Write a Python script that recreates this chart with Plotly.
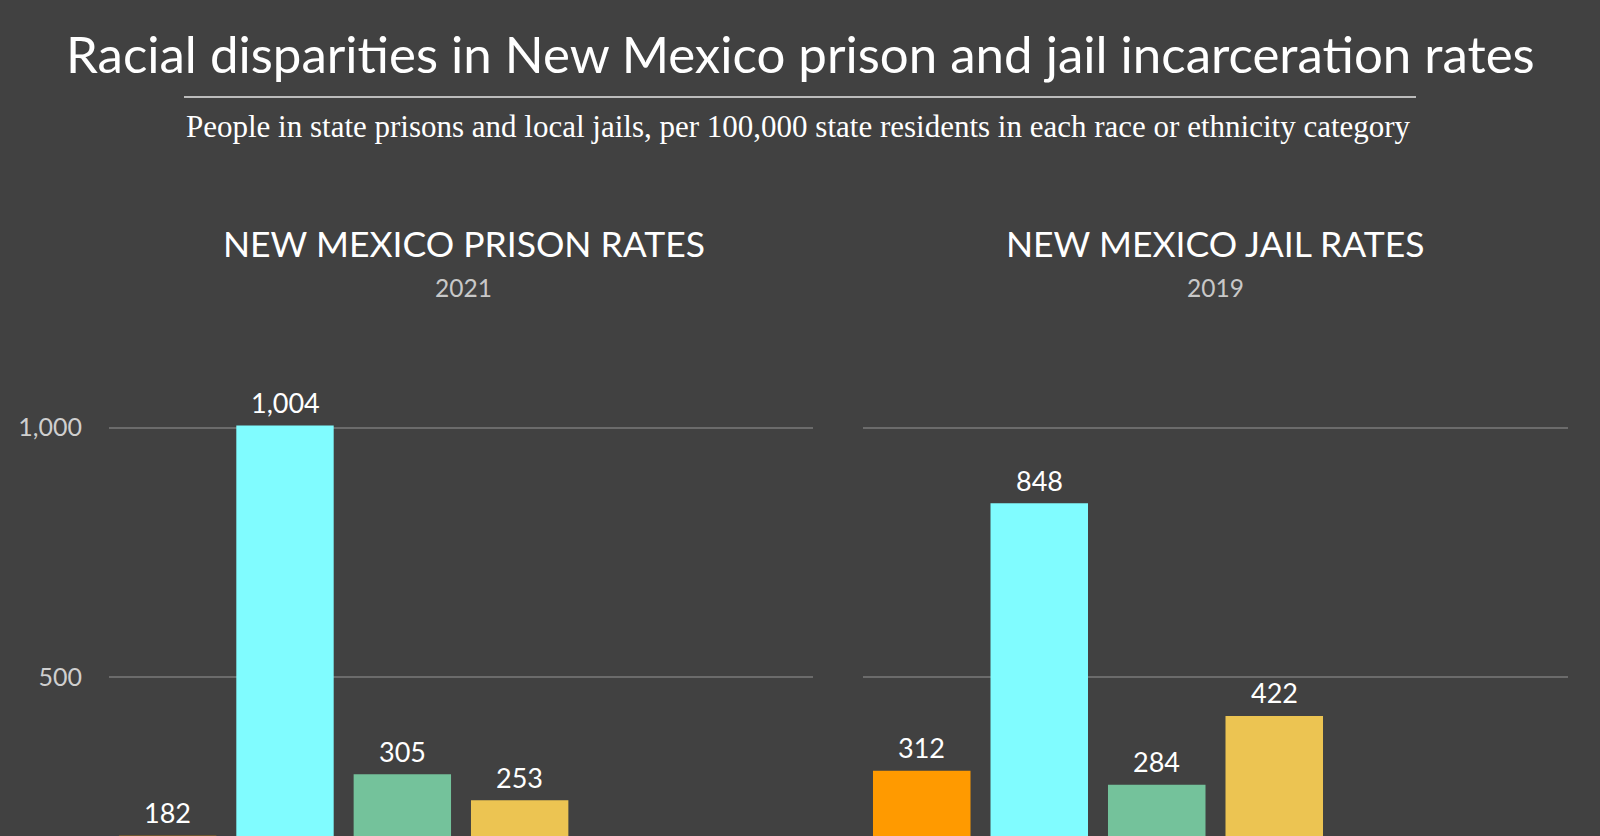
import plotly.graph_objects as go

categories = ["White", "Black", "Hispanic", "American Indian/Alaska Native"]
prison_rates = [182, 1004, 305, 253]
jail_rates = [312, 848, 284, 422]
bar_colors = ["#FF9A00", "#80FCFF", "#74C29B", "#ECC452"]
y_ticks = [500, 1000]
y_tick_text = ["500", "1,000"]

W, H = 1600, 836
BG = "#414141"

def py(px):
    return 1 - px / H

fig = go.Figure()
for vals, xa, ya in [(prison_rates, "x", "y"), (jail_rates, "x2", "y2")]:
    fig.add_trace(go.Bar(x=categories, y=vals, marker=dict(color=bar_colors, line=dict(width=0)),
                         xaxis=xa, yaxis=ya, showlegend=False, hoverinfo="x+y"))
    for c, v in zip(categories, vals):
        fig.add_annotation(x=c, y=v, xref=xa, yref=ya, text=f"{v:,}", showarrow=False,
                           yanchor="middle", yshift=23,
                           font=dict(family="Lato", size=27, color="#ffffff"))

yrange = [181.4, 1183.4]
ydom = [0, (H - 336) / H]
common_x = dict(type="category", range=[-0.5, 5.5], showticklabels=False, showgrid=False,
                zeroline=False, showline=False, ticks="")
fig.update_layout(
    width=W, height=H,
    margin=dict(l=0, r=0, t=0, b=0),
    paper_bgcolor=BG, plot_bgcolor=BG,
    bargap=0.17,
    xaxis=dict(domain=[109 / W, 813 / W], **common_x),
    xaxis2=dict(domain=[863 / W, 1568 / W], **common_x),
    yaxis=dict(domain=ydom, range=yrange, tickvals=y_ticks, ticktext=y_tick_text,
               gridcolor="#6b6b6b", gridwidth=1.5, zeroline=False, showline=False,
               ticks="", ticklabelstandoff=26,
               tickfont=dict(family="Lato", size=25, color="#cfcfcf")),
    yaxis2=dict(domain=ydom, range=yrange, tickvals=y_ticks, showticklabels=False,
                gridcolor="#6b6b6b", gridwidth=1.5, zeroline=False, showline=False,
                ticks="", anchor="x2"),
)

texts = [
    ("Racial disparities in New Mexico prison and jail incarceration rates", 800, 53, "Lato", 51, "#ffffff"),
    ("People in state prisons and local jails, per 100,000 state residents in each race or ethnicity category", 798, 127, "Liberation Serif", 31, "#ffffff"),
    ("NEW MEXICO PRISON RATES", 464, 243, "Lato", 35.5, "#ffffff"),
    ("2021", 464, 287, "Lato", 24.5, "#c8c8c8"),
    ("NEW MEXICO JAIL RATES", 1215, 243, "Lato", 35.5, "#ffffff"),
    ("2019", 1215, 287, "Lato", 24.5, "#c8c8c8"),
]
for t, x, y, fam, sz, col in texts:
    fig.add_annotation(text=t, x=x / W, y=py(y), xref="paper", yref="paper", showarrow=False,
                       xanchor="center", yanchor="middle", font=dict(family=fam, size=sz, color=col))

fig.add_shape(type="line", xref="paper", yref="paper", x0=184 / W, x1=1416 / W, y0=py(97), y1=py(97),
              line=dict(color="#e6e6e6", width=1.5))

fig.write_html("out.html")
